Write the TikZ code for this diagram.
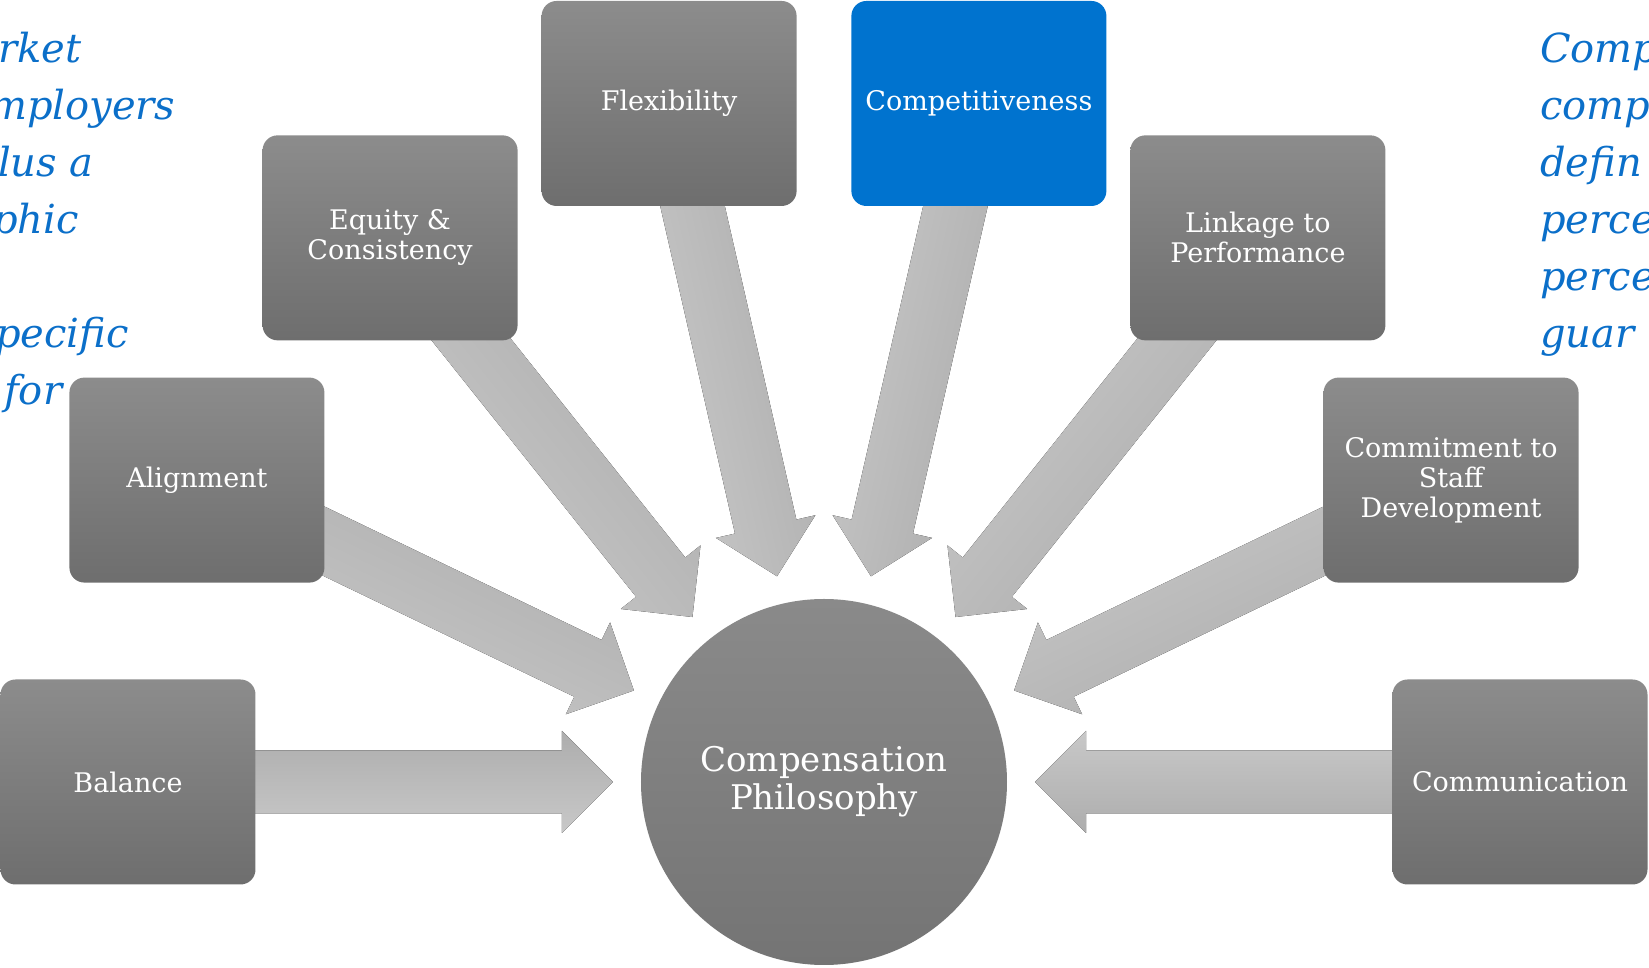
\documentclass[tikz,border=0pt]{standalone}
\usepackage{fontspec}
\setmainfont{DejaVu Serif}
\usetikzlibrary{calc,backgrounds}

\definecolor{boxtop}{HTML}{8C8C8C}
\definecolor{boxbot}{HTML}{6E6E6E}
\definecolor{hubtop}{HTML}{8A8A8A}
\definecolor{hubbot}{HTML}{747474}
\definecolor{arrdark}{HTML}{ADADAD}
\definecolor{arrlight}{HTML}{C8C8C8}
\definecolor{compblue}{HTML}{0073CF}
\definecolor{noteblue}{HTML}{0B6FC9}

\tikzstyle{bx} = [rectangle, draw=none, rounded corners=15pt, text=white, text centered, align=center, minimum width=255pt, minimum height=205pt, font=\fontsize{27}{30}\selectfont]
\tikzstyle{b} = [bx, top color=boxtop, bottom color=boxbot]
\tikzstyle{hl} = [bx, fill=compblue]
\tikzstyle{hub} = [circle, draw=none, top color=hubtop, bottom color=hubbot, text=white, align=center, minimum size=366pt, font=\fontsize{34}{38}\selectfont]
\tikzstyle{note} = [anchor=base west, inner sep=0pt, text=noteblue, font=\fontsize{40}{57}\selectfont\itshape]

% block arrow from a box towards the hub
\newcommand{\fatarrow}[2]{%
  \coordinate (#1-t) at ($(hub)!211pt!(#1)$);
  \coordinate (#1-h) at ($(hub)!262pt!(#1)$);
  \coordinate (#1-s) at ($(hub)!600pt!(#1)$);
  \pgfmathsetmacro{\shang}{#2-180}
  \fill [top color=arrdark, bottom color=arrlight, shading angle=\shang]
    (#1-t) -- ($(#1-h)!51pt!90:(#1-t)$) -- ($(#1-h)!31.5pt!90:(#1-t)$)
    -- ($(#1-s)!31.5pt!90:(#1-h)$) -- ($(#1-s)!31.5pt!-90:(#1-h)$)
    -- ($(#1-h)!31.5pt!-90:(#1-t)$) -- ($(#1-h)!51pt!-90:(#1-t)$) -- cycle;
}

\begin{document}
\begin{tikzpicture}[x=1pt, y=1pt]
    \clip (-824,-186) rectangle (825,782);

    % Place nodes
    \node [hub] (hub) at (0,0) {Compensation\\Philosophy};
    \node [b] (balance) at (180:696pt) {Balance};
    \node [b] (align) at (154.29:696pt) {Alignment};
    \node [b] (equity) at (128.57:696pt) {Equity \&\\Consistency};
    \node [b] (flex) at (102.86:696pt) {Flexibility};
    \node [hl] (compet) at (77.14:696pt) {Competitiveness};
    \node [b] (linkage) at (51.43:696pt) {Linkage to\\Performance};
    \node [b] (commit) at (25.71:696pt) {Commitment to\\Staff\\Development};
    \node [b] (comm) at (0:696pt) {Communication};

%Side notes
    \node [note] (ln1) at (-826,719) {rket};
    \node [note] (ln2) at (-835,662) {mployers};
    \node [note] (ln3) at (-826,605) {lus a};
    \node [note] (ln4) at (-832,548) {phic};
    \node [note] (ln5) at (-829,434) {pecific};
    \node [note] (ln6) at (-820,377) {for};
    \node [note] (rn1) at (716,719) {Comp};
    \node [note] (rn2) at (716,662) {comp};
    \node [note] (rn3) at (716,605) {defin};
    \node [note] (rn4) at (716,548) {perce};
    \node [note] (rn5) at (716,491) {perce};
    \node [note] (rn6) at (716,434) {guar};

    % Draw edges
    \begin{pgfonlayer}{background}
    \fatarrow{balance}{180}
    \fatarrow{align}{154.29}
    \fatarrow{equity}{128.57}
    \fatarrow{flex}{102.86}
    \fatarrow{compet}{77.14}
    \fatarrow{linkage}{51.43}
    \fatarrow{commit}{25.71}
    \fatarrow{comm}{0}
    \end{pgfonlayer}

\end{tikzpicture}
\end{document}
